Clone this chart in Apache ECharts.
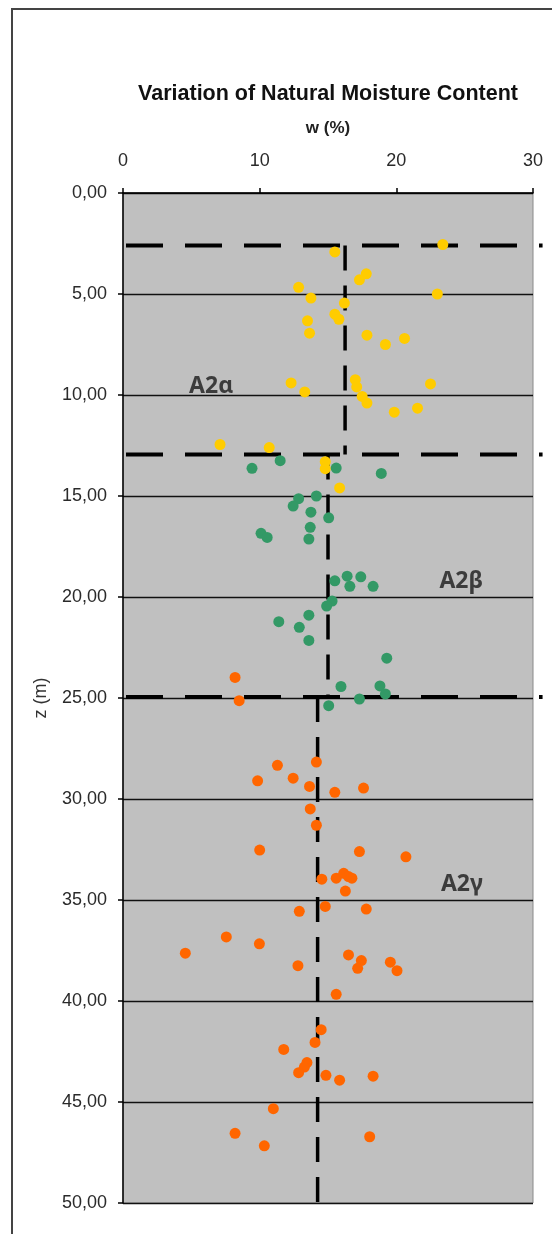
<!DOCTYPE html>
<html>
<head>
<meta charset="utf-8">
<script src="https://cdn.jsdelivr.net/npm/echarts@6/dist/echarts.min.js"></script>
<style>
  html, body { margin: 0; padding: 0; background: #fff; }
  #chart { width: 552px; height: 1234px; }
</style>
</head>
<body>
<div id="chart"></div>
<script>
// Natural moisture content w (%) against depth z (m), by layer
const layerAlpha = [
  [23.4, 2.55], [15.5, 2.92], [17.3, 4.3], [17.8, 4.0], [12.85, 4.67], [13.75, 5.2],
  [23.0, 5.0], [16.2, 5.45], [15.5, 6.0], [15.8, 6.25], [13.5, 6.33], [13.65, 6.94],
  [17.85, 7.04], [19.2, 7.5], [20.6, 7.2], [12.3, 9.4], [13.3, 9.85], [17.0, 9.24],
  [17.1, 9.6], [17.5, 10.07], [17.85, 10.4], [22.5, 9.45], [19.85, 10.85], [21.55, 10.65],
  [7.1, 12.45], [10.7, 12.6], [14.8, 13.3], [14.8, 13.65], [15.85, 14.6]
];
const layerBeta = [
  [9.44, 13.63], [11.5, 13.25], [15.6, 13.62], [18.9, 13.88], [12.85, 15.13], [12.45, 15.5],
  [14.15, 15.0], [13.75, 15.8], [15.05, 16.08], [13.7, 16.55], [13.6, 17.13], [10.1, 16.85],
  [10.55, 17.05], [15.5, 19.2], [16.4, 18.97], [16.6, 19.47], [17.4, 19.0], [18.3, 19.47],
  [15.3, 20.2], [14.9, 20.45], [13.6, 20.9], [11.4, 21.22], [12.9, 21.5], [13.6, 22.15],
  [19.3, 23.03], [15.95, 24.43], [18.8, 24.4], [19.2, 24.8], [17.3, 25.05], [15.05, 25.38]
];
const layerGamma = [
  [8.2, 23.98], [8.5, 25.13], [14.15, 28.17], [11.3, 28.33], [12.45, 28.97], [9.85, 29.1],
  [13.65, 29.38], [15.5, 29.67], [17.6, 29.46], [13.7, 30.49], [14.15, 31.3], [10.0, 32.53],
  [17.3, 32.6], [20.7, 32.86], [14.55, 33.97], [15.6, 33.92], [16.15, 33.68], [16.5, 33.84],
  [16.75, 33.92], [16.27, 34.56], [12.9, 35.56], [14.8, 35.32], [17.8, 35.45], [7.56, 36.83],
  [4.56, 37.63], [9.98, 37.17], [12.8, 38.25], [16.5, 37.72], [17.44, 38.0], [17.17, 38.38],
  [19.56, 38.08], [20.05, 38.5], [15.6, 39.67], [14.5, 41.42], [14.05, 42.05], [11.76, 42.4],
  [13.46, 43.05], [13.27, 43.27], [12.85, 43.55], [14.85, 43.68], [15.85, 43.92], [18.3, 43.72],
  [11.0, 45.33], [8.2, 46.55], [10.34, 47.17], [18.05, 46.72]
];

// Layer boundaries (z, m) and mean moisture per layer (w, %)
const boundaryDepths = [2.6, 12.95, 24.95];
const layerTops = [2.6, 12.95, 24.95];
const layerBottoms = [12.95, 24.95, 50];
const layerMeans = [16.25, 15.0, 14.24];
// boundary lines run a little past the right edge of the plot
const boundaryExtent = [0, 30.7];

// Layer names and where they are written (w, z)
const layerNames = ['A2α', 'A2β', 'A2γ'];
const layerNameAt = [[6.45, 9.6], [24.75, 19.25], [24.8, 34.25]];

// Axis ticks
const wTicks = [0, 10, 20, 30];
const zTickLabels = ['0,00', '5,00', '10,00', '15,00', '20,00', '25,00', '30,00', '35,00', '40,00', '45,00', '50,00'];

const markerColors = ['#FFCC00', '#339966', '#FF6600'];
const FONT = '"Liberation Sans", Arial, sans-serif';

// plot geometry
const plotLeft = 123, plotTop = 193, plotBottom = 31, plotRight = 19;
const plotWidth = 552 - plotLeft - plotRight;
// an overlay grid on the same scale, wide enough to hold the boundary lines
const overlayRight = 552 - plotLeft - plotWidth * boundaryExtent[1] / 30;

const chart = echarts.init(document.getElementById('chart'), null, { renderer: 'canvas' });

const series = [];
[layerAlpha, layerBeta, layerGamma].forEach((pts, i) => {
  series.push({
    name: layerNames[i],
    type: 'scatter',
    data: pts,
    symbol: 'circle',
    symbolSize: 11,
    itemStyle: { color: markerColors[i], opacity: 1 },
    z: 5,
    silent: true
  });
});

boundaryDepths.forEach((d) => {
  series.push({
    type: 'line',
    xAxisIndex: 1,
    yAxisIndex: 1,
    data: [[boundaryExtent[0], d], [boundaryExtent[1], d]],
    symbol: 'none',
    clip: false,
    lineStyle: { color: '#000', width: 4, type: [37, 22], dashOffset: -3 },
    z: 4,
    silent: true
  });
});

layerMeans.forEach((m, i) => {
  series.push({
    type: 'line',
    data: [[m, layerTops[i]], [m, layerBottoms[i]]],
    symbol: 'none',
    lineStyle: { color: '#000', width: 3.5, type: [25, 15] },
    z: 4,
    silent: true
  });
});

series.push({
  type: 'scatter',
  data: layerNames.map((n, i) => ({ name: n, value: layerNameAt[i] })),
  symbolSize: 0,
  label: {
    show: true,
    position: 'inside',
    formatter: (p) => p.name,
    fontFamily: '"Noto Sans", sans-serif',
    fontSize: 23,
    fontWeight: 'bold',
    color: '#1a1a1a'
  },
  z: 6,
  silent: true
});

chart.setOption({
  animation: false,
  backgroundColor: '#fff',
  title: {
    text: 'Variation of Natural Moisture Content',
    left: 323,
    top: 78,
    textAlign: 'center',
    textStyle: { fontFamily: FONT, fontSize: 21.5, fontWeight: 'bold', color: '#111' }
  },
  graphic: [{
    type: 'rect',
    shape: { x: 12, y: 9, width: 700, height: 1400 },
    style: { fill: 'none', stroke: '#444', lineWidth: 2 },
    silent: true
  }],
  grid: [{
    left: plotLeft, right: plotRight, top: plotTop, bottom: plotBottom,
    show: true, backgroundColor: '#C0C0C0', borderColor: '#8a8a8a', borderWidth: 1
  }, {
    left: plotLeft, right: overlayRight, top: plotTop, bottom: plotBottom,
    show: false
  }],
  xAxis: [{
    type: 'value',
    position: 'top',
    min: 0, max: 30, interval: 10,
    name: 'w (%)',
    nameLocation: 'middle',
    nameGap: 56,
    nameTextStyle: { fontFamily: FONT, fontSize: 17, fontWeight: 'bold', color: '#222' },
    axisLine: { show: true, lineStyle: { color: '#000', width: 1.5 } },
    axisTick: { show: true, inside: false, length: 5, lineStyle: { color: '#000', width: 1.5 } },
    axisLabel: {
      margin: 23, fontFamily: FONT, fontSize: 18, color: '#2a2a2a',
      formatter: (v) => (wTicks.includes(v) ? String(v) : '')
    },
    splitLine: { show: false }
  }, {
    type: 'value',
    gridIndex: 1,
    min: boundaryExtent[0], max: boundaryExtent[1],
    show: false
  }],
  yAxis: [{
    type: 'value',
    inverse: true,
    min: 0, max: 50, interval: 5,
    name: 'z (m)',
    nameLocation: 'middle',
    nameGap: 73,
    nameRotate: 90,
    nameTextStyle: { fontFamily: FONT, fontSize: 18, color: '#333' },
    axisLine: { show: true, lineStyle: { color: '#000', width: 1.5 } },
    axisTick: { show: true, inside: false, length: 5, lineStyle: { color: '#000', width: 1.5 } },
    axisLabel: {
      margin: 16, fontFamily: FONT, fontSize: 18, color: '#2a2a2a',
      formatter: (v) => zTickLabels[Math.round(v / 5)]
    },
    splitLine: { show: true, lineStyle: { color: '#111', width: 1.3 } }
  }, {
    type: 'value',
    gridIndex: 1,
    inverse: true,
    min: 0, max: 50,
    show: false
  }],
  series: series
});
</script>
</body>
</html>
